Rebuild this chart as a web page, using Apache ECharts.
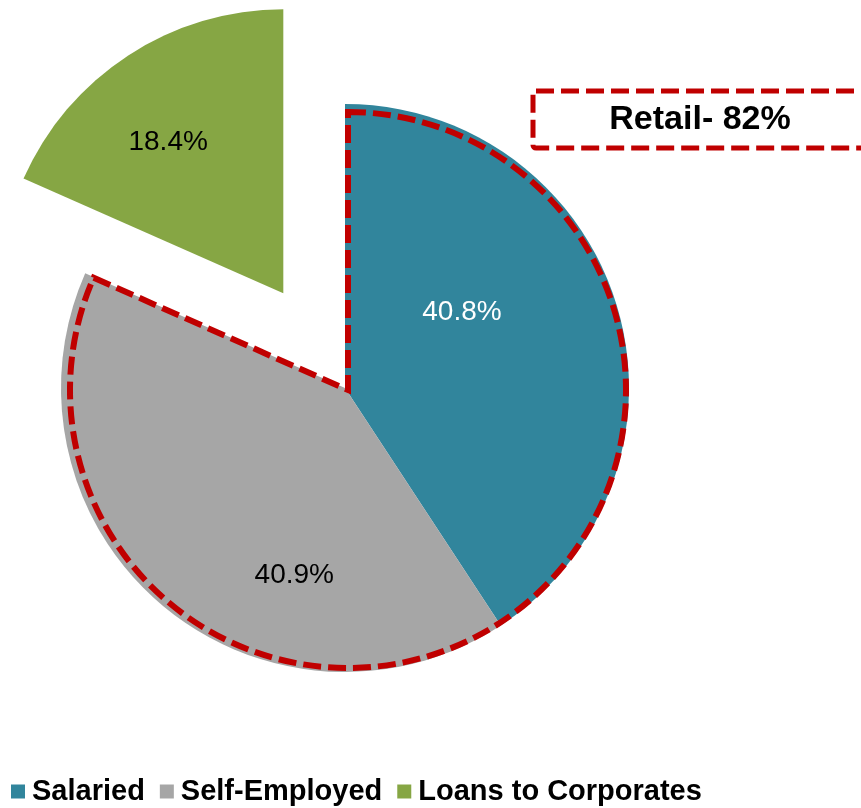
<!DOCTYPE html>
<html><head><meta charset="utf-8">
<script src="https://cdn.jsdelivr.net/npm/echarts@6/dist/echarts.min.js"></script>
<style>html,body{margin:0;padding:0;background:#fff}#c{width:861px;height:808px}</style>
</head><body><div id="c"></div>
<script>
const categories = ['Salaried', 'Self-Employed', 'Loans to Corporates'];
const values = [40.8, 40.9, 18.4];
const colors = ['#31859C', '#A6A6A6', '#86A644'];
const labelColors = ['#ffffff', '#000000', '#000000'];
const retailLabel = 'Retail- 82%';
const labelShift = [[-22, -34], [43, 77], [-36, -30]];

const chart = echarts.init(document.getElementById('c'));
const font = 'Arial, "Liberation Sans", sans-serif';
const retailSum = values[0] + values[1];

chart.setOption({
  animation: false,
  legend: {
    data: categories,
    left: 6, top: 772,
    icon: 'rect', itemWidth: 14, itemHeight: 14, itemGap: 15,
    textStyle: { fontSize: 29, fontWeight: 'bold', color: '#000', fontFamily: font, padding: [0, 0, 0, 2] }
  },
  series: [
    {
      type: 'pie',
      center: [345, 388],
      radius: [0, 284],
      startAngle: 90,
      clockwise: true,
      avoidLabelOverlap: false,
      selectedMode: 'multiple',
      selectedOffset: 113,
      silent: true,
      label: { show: true, position: 'inside', fontSize: 28, fontFamily: font,
        formatter: p => p.value.toFixed(1) + '%' },
      labelLine: { show: false },
      labelLayout: p => ({ dx: labelShift[p.dataIndex][0], dy: labelShift[p.dataIndex][1] }),
      data: categories.map((n, i) => ({
        name: n, value: values[i], selected: i === 2,
        itemStyle: { color: colors[i] },
        label: { color: labelColors[i] },
        select: { itemStyle: { color: colors[i] }, label: { color: labelColors[i] } }
      }))
    },
    {
      type: 'pie',
      center: [348, 390],
      radius: [0, 278],
      startAngle: 90,
      clockwise: true,
      silent: true,
      z: 5,
      label: { show: false },
      labelLine: { show: false },
      data: [
        { name: 'retail-outline', value: retailSum,
          itemStyle: { color: 'rgba(0,0,0,0)', borderColor: '#C00000', borderWidth: 6, borderType: [18, 7], borderJoin: 'miter' } },
        { name: 'rest', value: values[2],
          itemStyle: { color: 'rgba(0,0,0,0)', borderWidth: 0 } }
      ]
    }
  ],
  graphic: [
    { type: 'rect', shape: { x: 533, y: 91, width: 345, height: 57, r: 3 },
      style: { fill: '#fff', stroke: '#C00000', lineWidth: 5, lineDash: [18, 7] } },
    { type: 'text', x: 700, y: 120,
      style: { text: retailLabel, font: 'bold 34px ' + font, fill: '#000', textAlign: 'center', textVerticalAlign: 'middle' } }
  ]
});
</script></body></html>
